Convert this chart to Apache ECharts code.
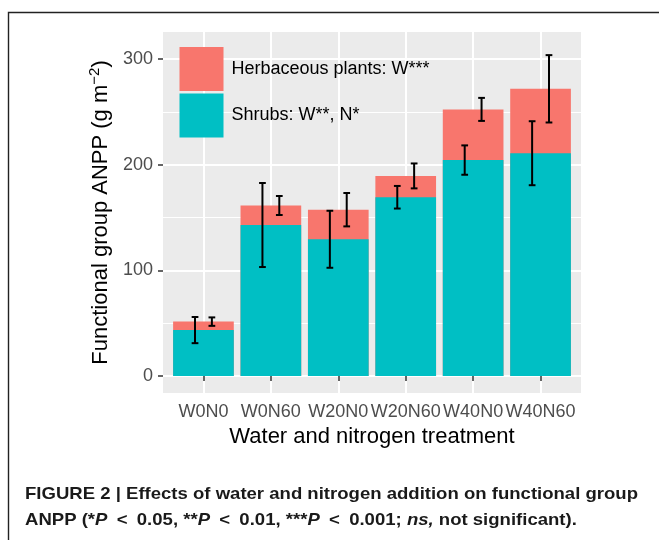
<!DOCTYPE html>
<html><head><meta charset="utf-8">
<script src="https://cdn.jsdelivr.net/npm/echarts@6/dist/echarts.min.js"></script>
<style>html,body{margin:0;padding:0;background:#fff}#c{width:659px;height:540px}</style>
</head><body><div id="c"></div>
<script>
const categories = ['W0N0', 'W0N60', 'W20N0', 'W20N60', 'W40N0', 'W40N60'];
const shrubs = [43.5, 143, 129.5, 169.3, 204.5, 211];
const herbs = [8, 18.5, 28, 20.2, 48, 61];
const shrubsSE = [12.4, 39.8, 27, 10.7, 13.9, 30.3];
const herbsSE = [4, 9, 15.8, 11.8, 10.9, 31.9];
const yTicks = [0, 100, 200, 300];
const yMinorTicks = [50, 150, 250];
const herbName = 'Herbaceous plants: W***';
const shrubName = 'Shrubs: W**, N*';
const caption1 = 'FIGURE 2 | Effects of water and nitrogen addition on functional group';
const caption2 = 'ANPP (*{i|P}\u2002<\u20020.05, **{i|P}\u2002<\u20020.01, ***{i|P}\u2002<\u20020.001; {i|ns,} not significant).';

const FONT = "'Liberation Sans', Arial, sans-serif";
const CAP_FONT = "bold 17px 'Liberation Sans', Arial, sans-serif";
const xs = categories.map((c, i) => i + 1);
const totals = shrubs.map((v, i) => v + herbs[i]);

// condensed look for caption: scale text horizontally to the reference line width
const mctx = document.createElement('canvas').getContext('2d');
mctx.font = CAP_FONT;
const capScale = 613 / mctx.measureText(caption1).width;

function errRender(offset) {
  return function (params, api) {
    const x = api.value(0) + offset;
    const lo = api.coord([x, api.value(1)]);
    const hi = api.coord([x, api.value(2)]);
    const l = api.coord([x - 0.05, api.value(1)]);
    const r = api.coord([x + 0.05, api.value(1)]);
    const hw = (r[0] - l[0]) / 2;
    const st = { stroke: '#000', lineWidth: 2 };
    return {
      type: 'group',
      children: [
        { type: 'line', shape: { x1: lo[0], y1: lo[1], x2: hi[0], y2: hi[1] }, style: st },
        { type: 'line', shape: { x1: lo[0] - hw, y1: lo[1], x2: lo[0] + hw, y2: lo[1] }, style: st },
        { type: 'line', shape: { x1: hi[0] - hw, y1: hi[1], x2: hi[0] + hw, y2: hi[1] }, style: st }
      ]
    };
  };
}

const chart = echarts.init(document.getElementById('c'), null, { renderer: 'canvas' });
chart.setOption({
  animation: false,
  backgroundColor: '#fff',
  textStyle: { fontFamily: FONT },
  grid: {
    left: 163, right: 78, top: 32, bottom: 147,
    show: true, backgroundColor: '#EBEBEB', borderWidth: 0,
    containLabel: false, outerBoundsMode: 'none'
  },
  legend: {
    data: [herbName, shrubName],
    orient: 'vertical', left: 179.5, top: 47, padding: 0,
    itemWidth: 44, itemHeight: 44, itemGap: 2.5, icon: 'rect',
    selectedMode: false,
    textStyle: { fontSize: 18, color: '#000', fontFamily: FONT, padding: [0, 0, 0, 3] }
  },
  xAxis: {
    type: 'value', min: 0.4, max: 6.6,
    axisLine: { show: false },
    axisTick: { show: true, customValues: xs, length: 5, lineStyle: { color: '#333', width: 1.5 } },
    axisLabel: {
      customValues: xs, margin: 10, fontSize: 18, color: '#4D4D4D', fontFamily: FONT,
      formatter: v => categories[Math.round(v) - 1]
    },
    splitLine: { show: true, lineStyle: { color: '#fff', width: 2 } },
    name: 'Water and nitrogen treatment', nameLocation: 'middle', nameGap: 30,
    nameTextStyle: { fontSize: 22, color: '#000', fontFamily: FONT }
  },
  yAxis: [{
    type: 'value', min: -16.1, max: 325.8,
    axisLine: { show: false },
    axisTick: { show: true, customValues: yTicks, length: 5, lineStyle: { color: '#333', width: 1.5 } },
    axisLabel: { customValues: yTicks, margin: 10, fontSize: 18, color: '#4D4D4D', fontFamily: FONT },
    splitLine: { show: true, lineStyle: { color: '#fff', width: 2 } },
    name: '{a|Functional group ANPP (g m}{b|−2}{a|)}',
    nameLocation: 'middle', nameGap: 46,
    nameTextStyle: {
      rich: {
        a: { fontSize: 22, color: '#000', fontFamily: FONT, lineHeight: 28 },
        b: { fontSize: 15, color: '#000', fontFamily: FONT, verticalAlign: 'top', lineHeight: 15 }
      }
    }
  }, {
    type: 'value', min: -16.1, max: 325.8, position: 'left',
    axisLine: { show: false },
    axisTick: { show: false, customValues: yMinorTicks },
    axisLabel: { show: false, customValues: yMinorTicks },
    splitLine: { show: true, lineStyle: { color: '#fff', width: 1 } }
  }],
  series: [
    {
      name: herbName, type: 'bar', yAxisIndex: 0, barWidth: '90%', barGap: '-100%',
      itemStyle: { color: '#F8766D' }, z: 2,
      data: totals.map((v, i) => [xs[i], v])
    },
    {
      name: shrubName, type: 'bar', yAxisIndex: 0, barWidth: '90%', barGap: '-100%',
      itemStyle: { color: '#00BFC4' }, z: 2,
      data: shrubs.map((v, i) => [xs[i], v])
    },
    {
      name: 'shrubErr', type: 'custom', yAxisIndex: 0, z: 5,
      renderItem: errRender(-0.125),
      encode: { x: 0, y: [1, 2] },
      data: shrubs.map((v, i) => [xs[i], v - shrubsSE[i], v + shrubsSE[i]])
    },
    {
      name: 'herbErr', type: 'custom', yAxisIndex: 0, z: 5,
      renderItem: errRender(0.125),
      encode: { x: 0, y: [1, 2] },
      data: totals.map((v, i) => [xs[i], v - herbsSE[i], v + herbsSE[i]])
    }
  ],
  graphic: [
    {
      type: 'polyline', silent: true,
      shape: { points: [[8.5, 540], [8.5, 12.5], [659, 12.5]] },
      style: { stroke: '#222', lineWidth: 1.4, fill: null }
    },
    {
      type: 'text', x: 25, y: 494, scaleX: capScale, originX: 0,
      style: {
        text: caption1, font: CAP_FONT, fill: '#1a1a1a', verticalAlign: 'middle'
      }
    },
    {
      type: 'text', x: 25, y: 520, scaleX: capScale, originX: 0,
      style: {
        text: caption2, font: CAP_FONT, fill: '#1a1a1a', verticalAlign: 'middle',
        rich: {
          i: { fontStyle: 'italic', fontWeight: 'bold', fontSize: 17, fontFamily: "'Liberation Sans', Arial, sans-serif", fill: '#1a1a1a' }
        }
      }
    }
  ]
});
</script>
</body></html>
